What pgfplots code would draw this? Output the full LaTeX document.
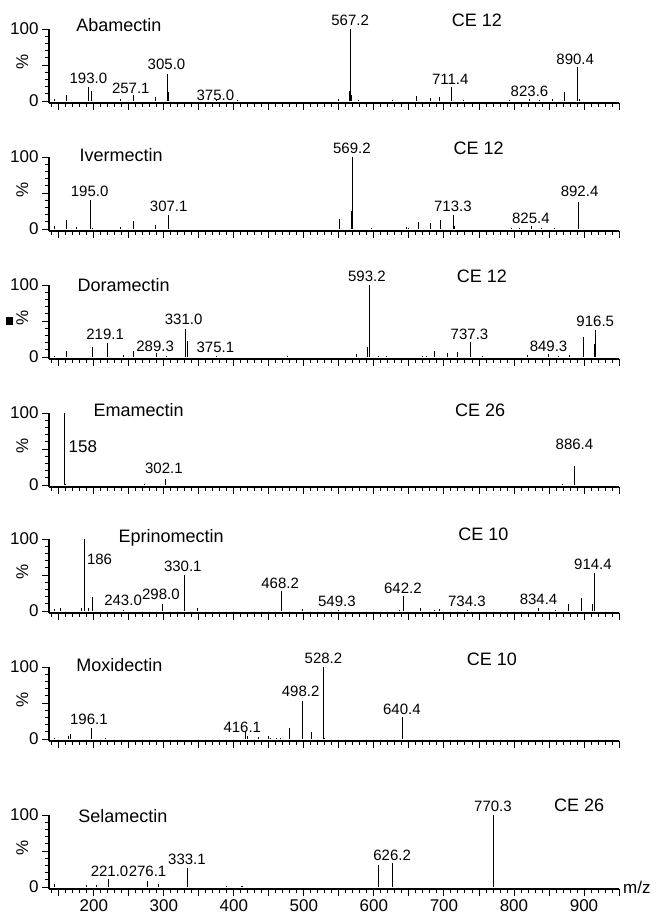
\documentclass[border=0pt]{standalone}
\usepackage{pgfplots}
\pgfplotsset{compat=1.18}
\usepackage{fontspec}
\setmainfont{Liberation Sans}

\newcommand\pkfont{\fontsize{15}{15}\selectfont}
\newcommand\bigfont{\fontsize{17}{17}\selectfont}
\newcommand\namefont{\fontsize{18}{18}\selectfont}

\tikzset{
  lb/.style={font=\pkfont, inner sep=0pt, anchor=center},
  nm/.style={font=\namefont, inner sep=0pt, anchor=west},
  ce/.style={font=\namefont, inner sep=0pt, anchor=center},
}

\pgfplotsset{
  spec/.style={
    at={(49pt,#1)}, anchor=south west,
    scale only axis, width=570pt, height=74pt,
    xmin=136, xmax=950, ymin=-2.6, ymax=100,
    axis x line=bottom, axis y line=left,
    x axis line style={-, line width=2.8pt},
    y axis line style={-, line width=1.8pt},
    xtick={150,200,...,950}, minor xtick={140,150,...,950},
    ytick={0,50,100}, yticklabels={0,,100}, minor ytick={10,20,...,90},
    tick align=outside, major tick length=7pt, minor tick length=4pt,
    every tick/.style={black, line width=0.9pt},
    xticklabels={},
    ylabel={\%},
    ylabel style={at={(axis description cs:-0.047,0.55)}, anchor=center, font=\bigfont},
    tick label style={font=\bigfont},
    /pgf/number format/assume math mode=true,
    clip=false,
  },
  pk/.style={ycomb, black, line width=1pt, mark=none},
}

\begin{document}
\begin{tikzpicture}
\useasboundingbox (0,0) rectangle (656pt,918pt);

% Abamectin
\begin{axis}[spec=815pt]
\addplot[pk] coordinates {(143.7,3) (161.4,8) (193.0,20) (197,14) (237.5,3) (257.1,8) (288.5,6) (305.0,38) (306.5,12) (375.0,3) (405,1) (549.4,3) (565.8,14) (567.2,100) (568.5,8) (578,2) (626,1.5) (661.4,7) (680.4,4) (693.7,6) (711.4,20) (728,2) (793,1.5) (822,3) (836,1.5) (855,3) (872.6,12) (890.4,47) (893.7,3)};
\node[lb] at (axis cs:192.2,32) {193.0};
\node[lb] at (axis cs:252.8,18) {257.1};
\node[lb] at (axis cs:303.8,51) {305.0};
\node[lb] at (axis cs:373.6,8) {375.0};
\node[lb] at (axis cs:566.1,112) {567.2};
\node[lb] at (axis cs:709,30) {711.4};
\node[lb] at (axis cs:822.2,14) {823.6};
\node[lb] at (axis cs:887.5,58) {890.4};
\node[nm] at (axis cs:174.7,105) {Abamectin};
\node[ce] at (axis cs:747,112) {CE 12};
\end{axis}

% Ivermectin
\begin{axis}[spec=687pt]
\addplot[pk] coordinates {(143.7,4) (161.4,13) (175.7,3) (195.0,40) (198,2) (237.5,3) (256.6,11) (288.5,6) (307.1,20) (551,14) (567.5,25) (569.2,100) (597,2) (646,3) (649,2) (663,10) (681,8) (695,13) (713.3,20) (715,4) (796,2) (808.6,2) (825.4,4) (840,2) (858,2) (892.4,38)};
\node[lb] at (axis cs:194,53) {195.0};
\node[lb] at (axis cs:307,31) {307.1};
\node[lb] at (axis cs:568.5,112) {569.2};
\node[lb] at (axis cs:712.8,32) {713.3};
\node[lb] at (axis cs:824.2,15) {825.4};
\node[lb] at (axis cs:893.7,53) {892.4};
\node[nm] at (axis cs:179.4,103) {Ivermectin};
\node[ce] at (axis cs:749.4,112) {CE 12};
\end{axis}

% Doramectin
\begin{axis}[spec=559pt]
\addplot[pk] coordinates {(143.7,2) (161.4,8) (198,14) (219.1,20) (242,3) (256.6,8) (289.3,6) (304,1) (331.0,39) (333.7,23) (375.1,2) (476.5,1) (575.6,5) (591.5,14) (593.2,100) (606,2) (618,2) (670,2) (675,2) (687,8) (705,6) (719,7) (737.3,21) (755,2) (820,3) (849.3,5) (863,2) (880,3) (900,28) (915,18) (916.5,37)};
\node[lb] at (axis cs:216.1,32) {219.1};
\node[lb] at (axis cs:287.6,15) {289.3};
\node[lb] at (axis cs:328.3,52) {331.0};
\node[lb] at (axis cs:373.6,14) {375.1};
\node[lb] at (axis cs:590,112) {593.2};
\node[lb] at (axis cs:736.5,32) {737.3};
\node[lb] at (axis cs:849.4,15) {849.3};
\node[lb] at (axis cs:916.1,50) {916.5};
\node[nm] at (axis cs:176.5,100) {Doramectin};
\node[ce] at (axis cs:754.2,112) {CE 12};
\end{axis}

% Emamectin
\begin{axis}[spec=431pt]
\addplot[pk] coordinates {(158,100) (160,2) (272,2) (302.1,9) (870,2) (886.4,26)};
\node[nm,font=\bigfont] at (axis cs:163.7,54) {158};
\node[lb] at (axis cs:300.1,23) {302.1};
\node[lb] at (axis cs:886.4,57) {886.4};
\node[nm] at (axis cs:199.4,104) {Emamectin};
\node[ce] at (axis cs:751.8,104) {CE 26};
\end{axis}

% Eprinomectin
\begin{axis}[spec=305pt]
\addplot[pk] coordinates {(143.7,3) (152.7,5) (182.7,4) (186,100) (192,4) (198,19) (243.0,2) (298.0,10) (330.1,50) (348,4) (468.2,28) (498,3) (549.3,2) (636,2) (642.2,21) (666,5) (687,2) (693,3) (734.3,1.5) (834.4,4) (859,2) (878,10) (897,18) (912.5,10) (914.4,53)};
\node[nm,font=\pkfont] at (axis cs:190,72) {186};
\node[lb] at (axis cs:241.8,15) {243.0};
\node[lb] at (axis cs:295.8,23) {298.0};
\node[lb] at (axis cs:327.1,62) {330.1};
\node[lb] at (axis cs:466.1,39) {468.2};
\node[lb] at (axis cs:547.1,13) {549.3};
\node[lb] at (axis cs:641.4,32) {642.2};
\node[lb] at (axis cs:732.8,13) {734.3};
\node[lb] at (axis cs:835.1,17) {834.4};
\node[lb] at (axis cs:912.8,65) {914.4};
\node[nm] at (axis cs:235.1,101) {Eprinomectin};
\node[ce] at (axis cs:756.5,106) {CE 10};
\end{axis}

% Moxidectin
\begin{axis}[spec=177pt]
\addplot[pk] coordinates {(143.7,2) (163.6,5) (166,7) (196.1,15) (217,2) (416.1,10) (419,4) (435,3) (448.8,5) (453,2) (461,1) (466,2) (479,15) (498.2,53) (511,10) (528.2,100) (530,2) (640.4,30)};
\node[lb] at (axis cs:192.9,27) {196.1};
\node[lb] at (axis cs:412,16) {416.1};
\node[lb] at (axis cs:495.4,66) {498.2};
\node[lb] at (axis cs:528,112) {528.2};
\node[lb] at (axis cs:640,41) {640.4};
\node[nm] at (axis cs:174.7,102) {Moxidectin};
\node[ce] at (axis cs:768.5,111) {CE 10};
\end{axis}

% Selamectin
\begin{axis}[spec=29pt,
  xticklabels={,200,,300,,400,,500,,600,,700,,800,,900,}]
\addplot[pk] coordinates {(144,4) (190,3) (204,3) (221.0,11) (276.1,8.5) (293,4) (333.1,26) (389,2) (411,2) (413,2) (606.2,31) (626.2,33) (770.3,100)};
\node[lb] at (axis cs:222.5,22) {221.0};
\node[lb] at (axis cs:276.7,22) {276.1};
\node[lb] at (axis cs:333,38) {333.1};
\node[lb] at (axis cs:626,44) {626.2};
\node[lb] at (axis cs:770,112) {770.3};
\node[nm] at (axis cs:177.8,99) {Selamectin};
\node[ce] at (axis cs:893,113) {CE 26};
\node[font=\bigfont, anchor=west, inner sep=0pt] at (axis cs:950,0) [xshift=4pt] {m/z};
\end{axis}

\fill[black] (6pt,593pt) rectangle (13pt,601pt);
\end{tikzpicture}
\end{document}
